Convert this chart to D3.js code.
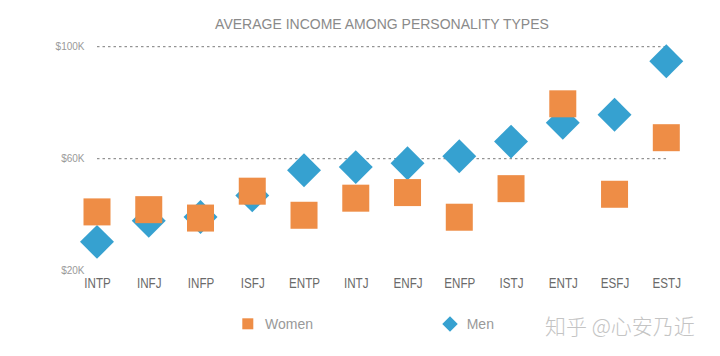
<!DOCTYPE html>
<html>
<head>
<meta charset="utf-8">
<script src="https://cdn.jsdelivr.net/npm/d3@7"></script>
<style>
  html, body { margin: 0; padding: 0; background: #fff; }
  svg { display: block; }
</style>
</head>
<body>
<svg id="chart" width="720" height="356"></svg>
<script>
const categories = ["INTP","INFJ","INFP","ISFJ","ENTP","INTJ","ENFJ","ENFP","ISTJ","ENTJ","ESFJ","ESTJ"];
const women = [41.0, 41.8, 38.8, 48.4, 39.8, 45.9, 47.9, 39.1, 49.3, 79.6, 47.3, 67.5];
const men   = [30.3, 37.8, 39.2, 46.9, 55.9, 57.0, 58.4, 60.9, 66.1, 72.8, 75.7, 94.8];
const yTicks = [20, 60, 100];
const gridValues = [60, 100];
const tickLabels = ["$20K", "$60K", "$100K"];
const title = "AVERAGE INCOME AMONG PERSONALITY TYPES";
const seriesNames = ["Women", "Men"];
const watermark = "知乎 @心安乃近";

const colors = { women: "#EE8D46", men: "#36A1D0" };

const svg = d3.select("#chart");

const x = d3.scalePoint().domain(categories).range([97, 666.3]);
const y = d3.scaleLinear().domain([20, 100]).range([270.7, 46.7]);

// title
svg.append("text")
  .attr("x", 382).attr("y", 29)
  .attr("text-anchor", "middle")
  .attr("font-family", "'Liberation Sans', Arial, sans-serif")
  .attr("font-size", 14)
  .attr("fill", "#8a8a8a")
  .text(title);

// gridlines
svg.append("g").selectAll("line").data(gridValues).join("line")
  .attr("x1", 97).attr("x2", 667)
  .attr("y1", d => y(d)).attr("y2", d => y(d))
  .attr("stroke", "#7a7a7a").attr("stroke-width", 1)
  .attr("stroke-dasharray", "2.5,3");

// y axis labels
const yAxis = d3.axisLeft(y).tickValues(yTicks)
  .tickFormat((d, i) => tickLabels[i]).tickSize(0).tickPadding(0);
const yg = svg.append("g").attr("transform", "translate(84.5,0)").call(yAxis);
yg.select(".domain").remove();
yg.selectAll("text")
  .attr("font-family", "'Liberation Sans', Arial, sans-serif")
  .attr("font-size", 10)
  .attr("fill", "#9a9a9a");

// x axis labels
const xAxis = d3.axisBottom(x).tickSize(0).tickPadding(0);
const xg = svg.append("g").attr("transform", "translate(0,278)").call(xAxis);
xg.select(".domain").remove();
xg.selectAll("text")
  .attr("font-family", "'Liberation Sans', Arial, sans-serif")
  .attr("font-size", 14.5)
  .attr("fill", "#6a6a6a")
  .attr("dy", "0.71em")
  .attr("transform", "scale(0.8,1)");

// men diamonds
const dSide = 24;
const diamond = d3.symbol().type(d3.symbolSquare).size(dSide * dSide);
svg.append("g").selectAll("path").data(men).join("path")
  .attr("d", diamond)
  .attr("transform", (d, i) => `translate(${x(categories[i])},${y(d)}) rotate(45)`)
  .attr("fill", colors.men);

// women squares
const sq = 27;
svg.append("g").selectAll("rect").data(women).join("rect")
  .attr("x", (d, i) => x(categories[i]) - sq / 2)
  .attr("y", d => y(d) - sq / 2)
  .attr("width", sq).attr("height", sq)
  .attr("fill", colors.women);

// legend
const lg = svg.append("g");
lg.append("rect").attr("x", 242.3).attr("y", 318.3).attr("width", 11).attr("height", 11)
  .attr("fill", colors.women);
lg.append("text").attr("x", 265).attr("y", 329)
  .attr("font-family", "'Liberation Sans', Arial, sans-serif")
  .attr("font-size", 14).attr("fill", "#999").text(seriesNames[0]);
lg.append("path")
  .attr("d", d3.symbol().type(d3.symbolSquare).size(11 * 11))
  .attr("transform", "translate(450,324) rotate(45)")
  .attr("fill", colors.men);
lg.append("text").attr("x", 466.7).attr("y", 329)
  .attr("font-family", "'Liberation Sans', Arial, sans-serif")
  .attr("font-size", 14).attr("fill", "#999").text(seriesNames[1]);

// watermark
svg.append("text").attr("x", 545).attr("y", 334)
  .attr("font-family", "'Noto Sans CJK SC', sans-serif")
  .attr("font-size", 21).attr("font-weight", 300)
  .attr("fill", "#c4c4c4").text(watermark);
</script>
</body>
</html>
